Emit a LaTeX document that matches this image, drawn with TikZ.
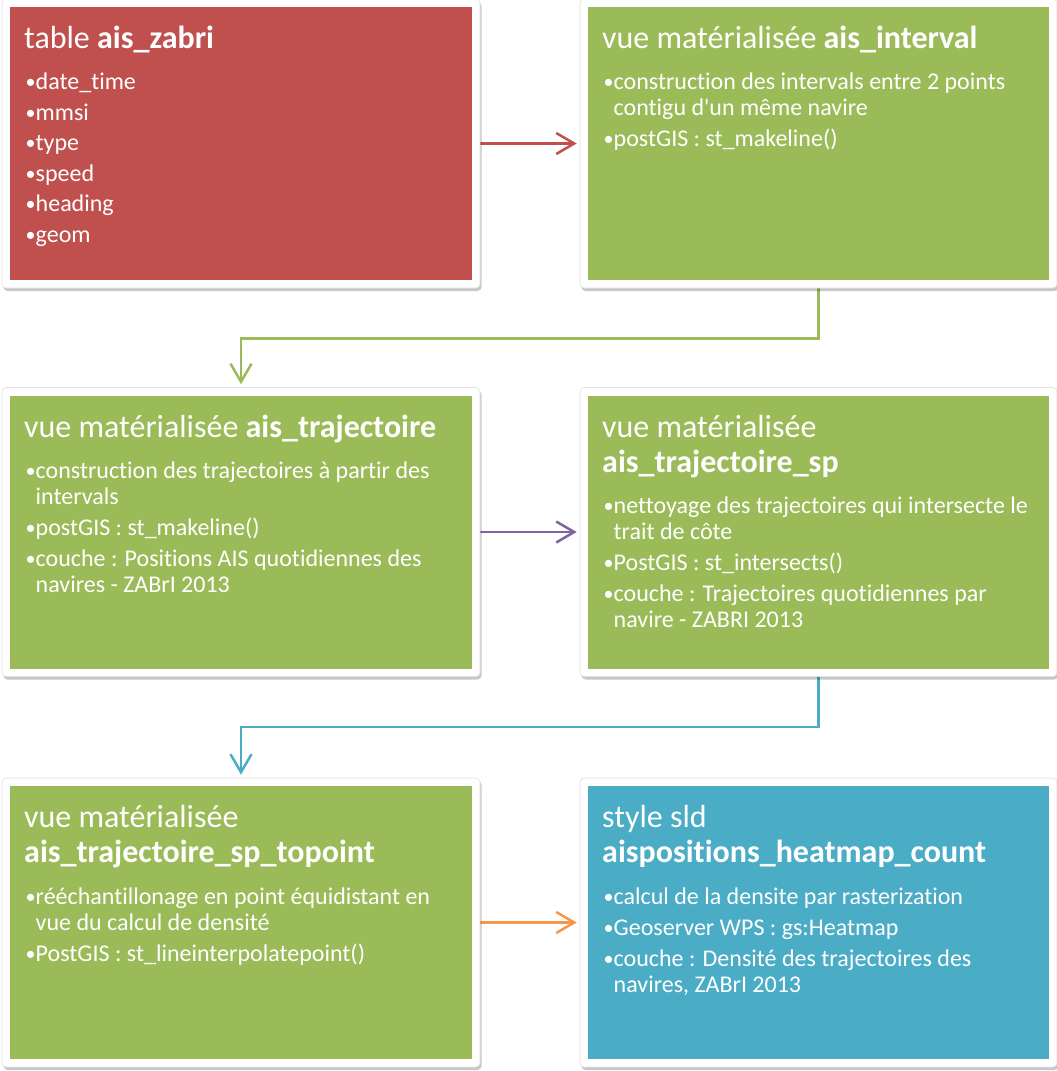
\documentclass[tikz,border=0pt]{standalone}
\usepackage{fontspec}
\setmainfont{Carlito}[Ligatures={TeXOff,CommonOff}]
\usetikzlibrary{arrows.meta,shadows,backgrounds}
\definecolor{cred}{HTML}{C0504D}
\definecolor{cgreen}{HTML}{9BBB59}
\definecolor{cblue}{HTML}{4BACC6}
\definecolor{cpurple}{HTML}{8064A2}
\definecolor{corange}{HTML}{F79646}
\newcommand\bl[1]{\parbox[t]{440pt}{\hangindent=11pt\hangafter=1\noindent\makebox[11pt][l]{\kern1pt\raisebox{0.5pt}{\fontsize{20}{20}\selectfont •}}#1}}
\begin{document}
\begin{tikzpicture}[x=1pt,y=-1pt,
  frame/.style={draw=black!12, line width=0.6pt, fill=white, rounded corners=4pt,
    minimum height=289pt, inner sep=0pt,
    drop shadow={shadow xshift=1.5pt,shadow yshift=-3pt,opacity=0.22,fill=black}},
  lframe/.style={frame, minimum width=478pt},
  rframe/.style={frame, minimum width=477pt},
  colbox/.style={draw=none, inner sep=0pt, minimum height=273pt},
  lbox/.style={colbox, minimum width=462pt},
  rbox/.style={colbox, minimum width=461pt},
  tl/.style={anchor=base west, inner sep=0pt, text=white, font=\fontsize{32}{35}\selectfont},
  bt/.style={anchor=base west, inner sep=0pt, text=white, font=\fontsize{24}{26}\selectfont},
  conn/.style={line width=2.5pt, -{Straight Barb[length=18pt,width=21pt]}, shorten >=3pt}]
\useasboundingbox (0,0) rectangle (1057,1071);

% frames and boxes
\node[lframe] (f1) at (241,143.5) {};
\node[lbox, fill=cred] (b1) at (241,143.5) {};
\node[rframe] (f2) at (818.5,143.5) {};
\node[rbox, fill=cgreen] (b2) at (818.5,143.5) {};
\node[lframe] (f3) at (241,532) {};
\node[lbox, fill=cgreen] (b3) at (241,532) {};
\node[rframe] (f4) at (818.5,532) {};
\node[rbox, fill=cgreen] (b4) at (818.5,532) {};
\node[lframe] (f5) at (241,922.5) {};
\node[lbox, fill=cgreen] (b5) at (241,922.5) {};
\node[rframe] (f6) at (818.5,922.5) {};
\node[rbox, fill=cblue] (b6) at (818.5,922.5) {};

% box 1
\node[tl] (t1) at (24,48) {table \textbf{ais\_zabri}};
\node[bt] (t1a) at (24.5,89) {\bl{date\_time}};
\node[bt] (t1b) at (24.5,120) {\bl{mmsi}};
\node[bt] (t1c) at (24.5,150) {\bl{type}};
\node[bt] (t1d) at (24.5,181) {\bl{speed}};
\node[bt] (t1e) at (24.5,211) {\bl{heading}};
\node[bt] (t1f) at (24.5,242) {\bl{geom}};

% box 2
\node[tl] (t2) at (602,48) {vue matérialisée \textbf{ais\_interval}};
\node[bt] (t2a) at (602.5,89) {\bl{construction des intervals entre 2 points\newline contigu d'un même navire}};
\node[bt] (t2b) at (602.5,146) {\bl{postGIS : st\_makeline()}};

% box 3
\node[tl] (t3) at (24,437) {vue matérialisée \textbf{ais\_trajectoire}};
\node[bt] (t3a) at (24.5,478) {\bl{construction des trajectoires à partir des\newline intervals}};
\node[bt] (t3b) at (24.5,535) {\bl{postGIS : st\_makeline()}};
\node[bt] (t3c) at (24.5,566) {\bl{couche : Positions AIS quotidiennes des\newline navires - ZABrI 2013}};

% box 4
\node[tl] (t4) at (602,437) {vue matérialisée};
\node[tl] (t4t) at (602,472) {\textbf{ais\_trajectoire\_sp}};
\node[bt] (t4a) at (602.5,513) {\bl{nettoyage des trajectoires qui intersecte le\newline trait de côte}};
\node[bt] (t4b) at (602.5,570) {\bl{PostGIS : st\_intersects()}};
\node[bt] (t4c) at (602.5,601) {\bl{couche : Trajectoires quotidiennes par\newline navire - ZABRI 2013}};

% box 5
\node[tl] (t5) at (24,827) {vue matérialisée};
\node[tl] (t5t) at (24,862) {\textbf{ais\_trajectoire\_sp\_topoint}};
\node[bt] (t5a) at (24.5,904) {\bl{rééchantillonage en point équidistant en\newline vue du calcul de densité}};
\node[bt] (t5b) at (24.5,961) {\bl{PostGIS : st\_lineinterpolatepoint()}};

% box 6
\node[tl] (t6) at (602,827) {style sld};
\node[tl] (t6t) at (602,862) {\textbf{aispositions\_heatmap\_count}};
\node[bt] (t6a) at (602.5,904) {\bl{calcul de la densite par rasterization}};
\node[bt] (t6b) at (602.5,935) {\bl{Geoserver WPS : gs:Heatmap}};
\node[bt] (t6c) at (602.5,966) {\bl{couche : Densité des trajectoires des\newline navires, ZABrI 2013}};

% background and connectors
\begin{scope}[on background layer]
\fill[white] (0,0) rectangle (1057,1071);
\draw[conn, draw=cred] (f1.east) -- (f2.west);
\draw[conn, draw=cgreen] (f2.south) -- ++(0,50) -| (f3.north);
\draw[conn, draw=cpurple] (f3.east) -- (f4.west);
\draw[conn, draw=cblue] (f4.south) -- ++(0,50) -| (f5.north);
\draw[conn, draw=corange] (f5.east) -- (f6.west);
\end{scope}
\end{tikzpicture}
\end{document}
